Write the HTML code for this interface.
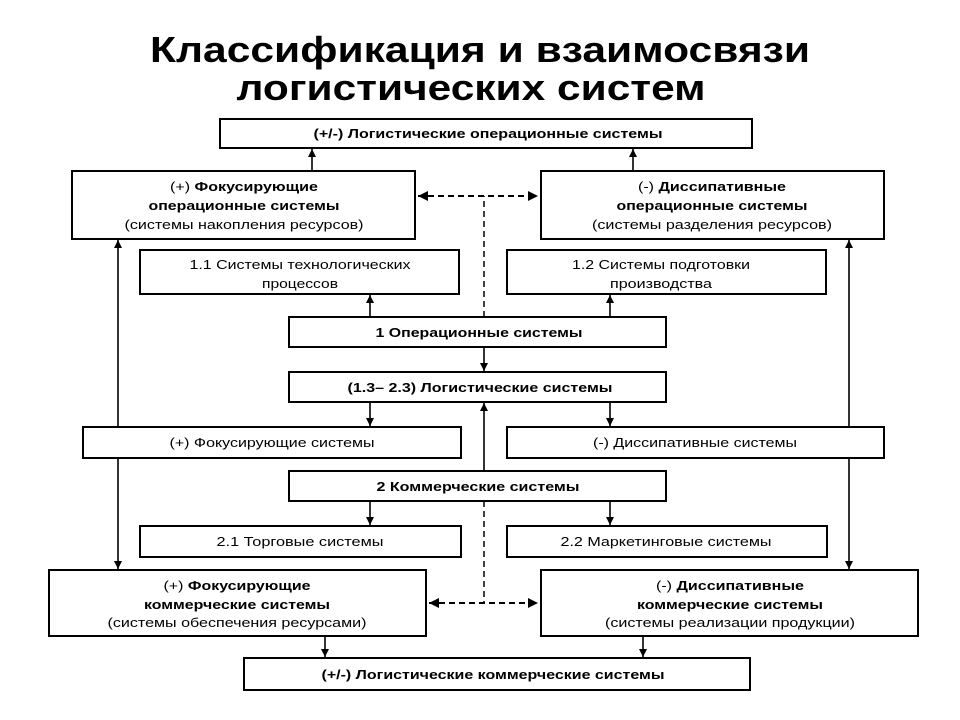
<!DOCTYPE html>
<html><head><meta charset="utf-8"><style>html,body{margin:0;padding:0;background:#fff}svg{display:block}</style></head>
<body>
<svg width="960" height="720" viewBox="0 0 960 720" xmlns="http://www.w3.org/2000/svg" font-family="'Liberation Sans', sans-serif">
<defs>
<marker id="a" viewBox="0 0 10 10" refX="10" refY="5" markerWidth="5" markerHeight="5" orient="auto-start-reverse"><path d="M0,0L10,5L0,10z" fill="#000"/></marker>
</defs>
<rect width="960" height="720" fill="#fff"/>
<g font-weight="bold" font-size="36" text-anchor="middle">
<text x="480" y="62" textLength="660" lengthAdjust="spacingAndGlyphs">Классификация и взаимосвязи</text>
<text x="471" y="100" textLength="469" lengthAdjust="spacingAndGlyphs">логистических систем</text>
</g>
<g fill="none" stroke="#000" stroke-width="2">
<rect x="220" y="119" width="532" height="29"/>
<rect x="72" y="171" width="343" height="68"/>
<rect x="541" y="171" width="343" height="68"/>
<rect x="140" y="250" width="319" height="44"/>
<rect x="507" y="250" width="319" height="44"/>
<rect x="289" y="317" width="377" height="30"/>
<rect x="289" y="372" width="377" height="30"/>
<rect x="83" y="427" width="378" height="31"/>
<rect x="507" y="427" width="377" height="31"/>
<rect x="289" y="471" width="377" height="30"/>
<rect x="140" y="526" width="321" height="31"/>
<rect x="507" y="526" width="320" height="31"/>
<rect x="49" y="570" width="377" height="66"/>
<rect x="541" y="570" width="377" height="66"/>
<rect x="244" y="658" width="506" height="32"/>
</g>
<g stroke="#000" stroke-width="1.6" fill="none" marker-end="url(#a)">
<line x1="312" y1="171" x2="312" y2="149"/>
<line x1="633" y1="171" x2="633" y2="149"/>
<line x1="118" y1="427" x2="118" y2="240"/>
<line x1="849" y1="427" x2="849" y2="240"/>
<line x1="118" y1="458" x2="118" y2="569"/>
<line x1="849" y1="458" x2="849" y2="569"/>
<line x1="370" y1="317" x2="370" y2="295"/>
<line x1="610" y1="317" x2="610" y2="295"/>
<line x1="484" y1="347" x2="484" y2="371"/>
<line x1="370" y1="402" x2="370" y2="426"/>
<line x1="610" y1="402" x2="610" y2="426"/>
<line x1="484" y1="471" x2="484" y2="403"/>
<line x1="370" y1="501" x2="370" y2="525"/>
<line x1="610" y1="501" x2="610" y2="525"/>
<line x1="325" y1="636" x2="325" y2="657"/>
<line x1="643" y1="636" x2="643" y2="657"/>
</g>
<g stroke="#000" fill="none" stroke-dasharray="6,4">
<line x1="484" y1="317" x2="484" y2="196" stroke-width="1.5"/>
<line x1="484" y1="501" x2="484" y2="603" stroke-width="1.5"/>
<line x1="418" y1="196" x2="538" y2="196" stroke-width="2" marker-start="url(#a)" marker-end="url(#a)"/>
<line x1="429" y1="603" x2="538" y2="603" stroke-width="2" marker-start="url(#a)" marker-end="url(#a)"/>
</g>
<g font-size="13" text-anchor="middle" lengthAdjust="spacingAndGlyphs">
<text x="488" y="138" font-weight="bold" textLength="349" lengthAdjust="spacingAndGlyphs">(+/-) Логистические операционные системы</text>
<text x="244" y="191" textLength="148" lengthAdjust="spacingAndGlyphs">(+) <tspan font-weight="bold">Фокусирующие</tspan></text>
<text x="244" y="210" font-weight="bold" textLength="191" lengthAdjust="spacingAndGlyphs">операционные системы</text>
<text x="244" y="229" textLength="239" lengthAdjust="spacingAndGlyphs">(системы накопления ресурсов)</text>
<text x="712" y="191" textLength="148" lengthAdjust="spacingAndGlyphs">(-) <tspan font-weight="bold">Диссипативные</tspan></text>
<text x="712" y="210" font-weight="bold" textLength="191" lengthAdjust="spacingAndGlyphs">операционные системы</text>
<text x="712" y="229" textLength="240" lengthAdjust="spacingAndGlyphs">(системы разделения ресурсов)</text>
<text x="300" y="269" textLength="221" lengthAdjust="spacingAndGlyphs">1.1 Системы технологических</text>
<text x="300" y="288" textLength="76" lengthAdjust="spacingAndGlyphs">процессов</text>
<text x="661" y="269" textLength="178" lengthAdjust="spacingAndGlyphs">1.2 Системы подготовки</text>
<text x="661" y="288" textLength="102" lengthAdjust="spacingAndGlyphs">производства</text>
<text x="479" y="337" font-weight="bold" textLength="207" lengthAdjust="spacingAndGlyphs">1 Операционные системы</text>
<text x="480" y="392" font-weight="bold" textLength="265" lengthAdjust="spacingAndGlyphs">(1.3– 2.3) Логистические системы</text>
<text x="272" y="447" textLength="205" lengthAdjust="spacingAndGlyphs">(+) Фокусирующие системы</text>
<text x="695" y="447" textLength="204" lengthAdjust="spacingAndGlyphs">(-) Диссипативные системы</text>
<text x="478" y="491" font-weight="bold" textLength="203" lengthAdjust="spacingAndGlyphs">2 Коммерческие системы</text>
<text x="300" y="546" textLength="167" lengthAdjust="spacingAndGlyphs">2.1 Торговые системы</text>
<text x="666" y="546" textLength="211" lengthAdjust="spacingAndGlyphs">2.2 Маркетинговые системы</text>
<text x="237" y="590" textLength="147" lengthAdjust="spacingAndGlyphs">(+) <tspan font-weight="bold">Фокусирующие</tspan></text>
<text x="237" y="609" font-weight="bold" textLength="186" lengthAdjust="spacingAndGlyphs">коммерческие системы</text>
<text x="237" y="627" textLength="259" lengthAdjust="spacingAndGlyphs">(системы обеспечения ресурсами)</text>
<text x="730" y="590" textLength="148" lengthAdjust="spacingAndGlyphs">(-) <tspan font-weight="bold">Диссипативные</tspan></text>
<text x="730" y="609" font-weight="bold" textLength="186" lengthAdjust="spacingAndGlyphs">коммерческие системы</text>
<text x="730" y="627" textLength="250" lengthAdjust="spacingAndGlyphs">(системы реализации продукции)</text>
<text x="493" y="679" font-weight="bold" textLength="343" lengthAdjust="spacingAndGlyphs">(+/-) Логистические коммерческие системы</text>
</g>
</svg>
</body></html>
